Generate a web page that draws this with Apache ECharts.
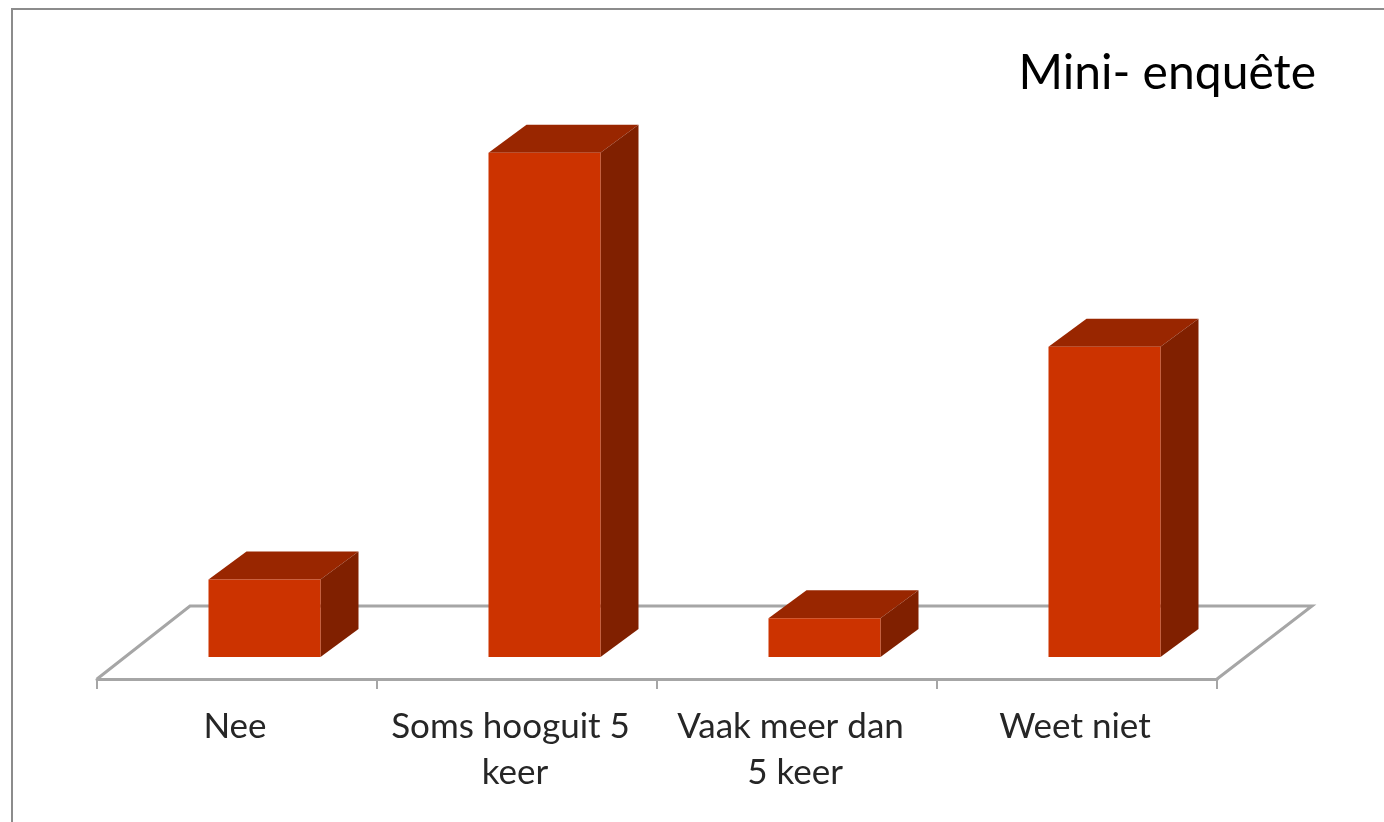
<!DOCTYPE html>
<html>
<head>
<meta charset="utf-8">
<title>Mini- enquête</title>
<script src="https://cdn.jsdelivr.net/npm/echarts@6/dist/echarts.min.js"></script>
<style>
  html, body { margin: 0; padding: 0; background: #fff; }
  #chart { width: 1384px; height: 822px; }
</style>
</head>
<body>
<div id="chart"></div>
<script>
var categories = ["Nee", "Soms hooguit 5 keer", "Vaak meer dan 5 keer", "Weet niet"];
var values = [2, 13, 1, 8];

var myChart = echarts.init(document.querySelector("#chart"));

// 3D look, in pixels
var floorDx = 93, floorDy = -73;
var barDx = 38, barDy = -28;
var shiftX = 27.5, shiftY = -22;
var barWidth = 112;

function renderFloor(params, api) {
  var g = params.coordSys;
  var x0 = g.x, x1 = g.x + g.width, y = g.y + g.height;
  return {
    type: "polyline",
    shape: {
      points: [[x0, y], [x0 + floorDx, y + floorDy], [x1 + floorDx + 2, y + floorDy], [x1, y]]
    },
    style: { fill: null, stroke: "#a6a6a6", lineWidth: 3 },
    silent: true
  };
}

function renderBar(params, api) {
  var top = api.coord([api.value(0), api.value(1)]);
  var base = api.coord([api.value(0), 0]);
  var l = top[0] - barWidth / 2 + shiftX, r = l + barWidth;
  var t = top[1] + shiftY, b = base[1] + shiftY;
  return {
    type: "group",
    children: [{
      type: "polygon",
      shape: { points: [[l, t], [l + barDx, t + barDy], [r + barDx, t + barDy], [r, t]] },
      style: { fill: "#992600" }
    }, {
      type: "polygon",
      shape: { points: [[r, t], [r + barDx, t + barDy], [r + barDx, b + barDy], [r, b]] },
      style: { fill: "#802000" }
    }, {
      type: "rect",
      shape: { x: l, y: t, width: barWidth, height: b - t },
      style: { fill: "#cc3300" }
    }]
  };
}

var option = {
  animation: false,
  title: {
    text: "Mini- enquête",
    right: 63,
    top: 45,
    textStyle: { fontFamily: "Lato", fontSize: 48, fontWeight: "normal", color: "#000" }
  },
  grid: { left: 97, top: 136, width: 1120, height: 543 },
  xAxis: {
    type: "category",
    data: categories,
    boundaryGap: true,
    axisLine: { lineStyle: { color: "#a6a6a6", width: 3 } },
    axisTick: { show: true, alignWithLabel: false, length: 10, lineStyle: { color: "#a6a6a6", width: 2 } },
    axisLabel: {
      interval: 0,
      margin: 25,
      width: 250,
      overflow: "break",
      lineHeight: 46,
      padding: [0, 4, 0, 0],
      fontFamily: "Lato",
      fontSize: 35,
      color: "#262626"
    }
  },
  yAxis: { type: "value", min: 0, max: 14, show: false },
  series: [{
    type: "custom",
    name: "floor",
    renderItem: renderFloor,
    data: [0],
    silent: true,
    z: 1
  }, {
    type: "custom",
    name: "Mini- enquête",
    renderItem: renderBar,
    encode: { x: 0, y: 1 },
    data: categories.map(function (c, i) { return [i, values[i]]; }),
    z: 2
  }],
  graphic: [{
    type: "polyline",
    shape: { points: [[12, 822], [12, 9], [1384, 9]] },
    style: { fill: null, stroke: "#8c8c8c", lineWidth: 2 }
  }]
};

myChart.setOption(option);

window.addEventListener("resize", function () {
  myChart.resize();
});
</script>
</body>
</html>
